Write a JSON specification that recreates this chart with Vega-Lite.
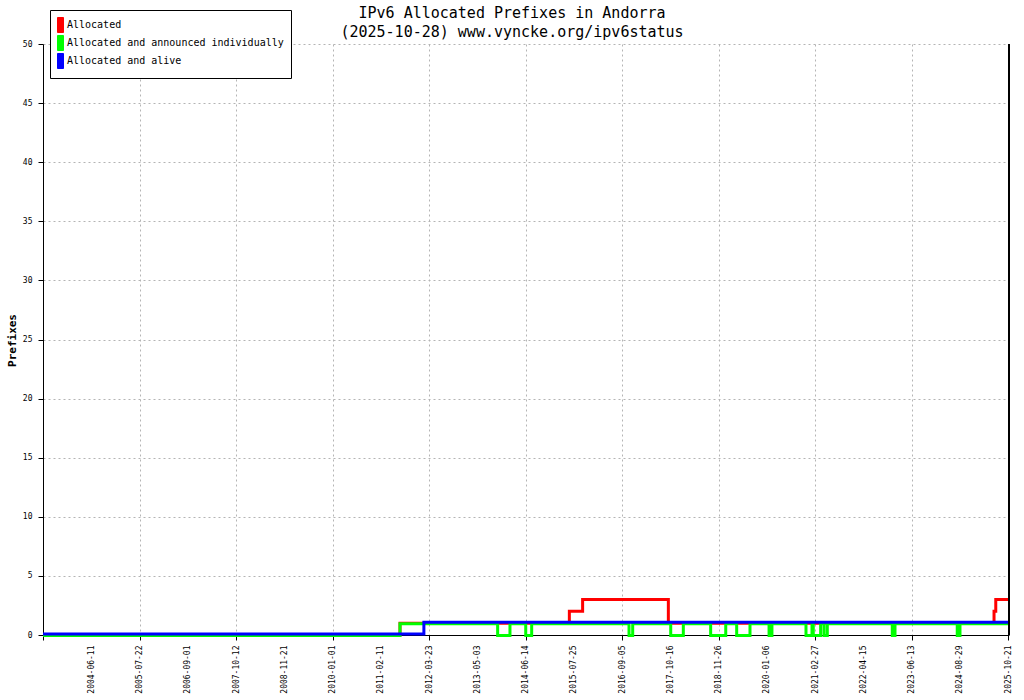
{
  "$schema": "https://vega.github.io/schema/vega-lite/v6.json",
  "description": "IPv6 allocated prefixes in Andorra, step lines per status.",
  "width": 966,
  "height": 591,
  "autosize": {"type": "none"},
  "padding": {"left": 43, "top": 44, "right": 15, "bottom": 65},
  "background": "white",
  "title": {
    "text": ["IPv6 Allocated Prefixes in Andorra", "(2025-10-28) www.vyncke.org/ipv6status"],
    "font": "DejaVu Sans Mono",
    "fontSize": 15,
    "fontWeight": "normal",
    "lineHeight": 19,
    "color": "black",
    "anchor": "middle",
    "frame": "group",
    "dx": -14,
    "offset": -30
  },
  "data": {
    "values": [
      {"date": "2003-05-01", "series": "Allocated", "value": 0},
      {"date": "2011-07-23", "series": "Allocated", "value": 1},
      {"date": "2015-06-18", "series": "Allocated", "value": 2},
      {"date": "2015-10-08", "series": "Allocated", "value": 3},
      {"date": "2017-09-30", "series": "Allocated", "value": 1},
      {"date": "2025-06-22", "series": "Allocated", "value": 2},
      {"date": "2025-07-07", "series": "Allocated", "value": 3},
      {"date": "2025-10-28", "series": "Allocated", "value": 3},

      {"date": "2003-05-01", "series": "Allocated and announced individually", "value": 0},
      {"date": "2011-07-23", "series": "Allocated and announced individually", "value": 1},
      {"date": "2013-10-22", "series": "Allocated and announced individually", "value": 0},
      {"date": "2014-02-03", "series": "Allocated and announced individually", "value": 1},
      {"date": "2014-06-16", "series": "Allocated and announced individually", "value": 0},
      {"date": "2014-08-05", "series": "Allocated and announced individually", "value": 1},
      {"date": "2016-11-03", "series": "Allocated and announced individually", "value": 0},
      {"date": "2016-12-04", "series": "Allocated and announced individually", "value": 1},
      {"date": "2017-10-20", "series": "Allocated and announced individually", "value": 0},
      {"date": "2018-02-03", "series": "Allocated and announced individually", "value": 1},
      {"date": "2018-09-21", "series": "Allocated and announced individually", "value": 0},
      {"date": "2019-01-26", "series": "Allocated and announced individually", "value": 1},
      {"date": "2019-04-28", "series": "Allocated and announced individually", "value": 0},
      {"date": "2019-08-18", "series": "Allocated and announced individually", "value": 1},
      {"date": "2020-01-26", "series": "Allocated and announced individually", "value": 0},
      {"date": "2020-02-20", "series": "Allocated and announced individually", "value": 1},
      {"date": "2020-12-11", "series": "Allocated and announced individually", "value": 0},
      {"date": "2021-02-01", "series": "Allocated and announced individually", "value": 1},
      {"date": "2021-02-12", "series": "Allocated and announced individually", "value": 0},
      {"date": "2021-04-16", "series": "Allocated and announced individually", "value": 1},
      {"date": "2021-05-15", "series": "Allocated and announced individually", "value": 0},
      {"date": "2021-06-12", "series": "Allocated and announced individually", "value": 1},
      {"date": "2022-12-26", "series": "Allocated and announced individually", "value": 0},
      {"date": "2023-01-19", "series": "Allocated and announced individually", "value": 1},
      {"date": "2024-08-06", "series": "Allocated and announced individually", "value": 0},
      {"date": "2024-08-31", "series": "Allocated and announced individually", "value": 1},
      {"date": "2025-10-28", "series": "Allocated and announced individually", "value": 1},

      {"date": "2003-05-01", "series": "Allocated and alive", "value": 0},
      {"date": "2012-02-09", "series": "Allocated and alive", "value": 1},
      {"date": "2025-10-28", "series": "Allocated and alive", "value": 1}
    ]
  },
  "encoding": {
    "x": {
      "field": "date",
      "type": "temporal",
      "scale": {
        "type": "utc",
        "nice": false,
        "domain": [1051747200000, 1761609600000],
        "domainRaw": {"expr": "[1051747200000, 1086912000000, 1121990400000, 1157068800000, 1192147200000, 1227225600000, 1262304000000, 1297382400000, 1332460800000, 1367539200000, 1402704000000, 1437782400000, 1473033600000, 1508112000000, 1543190400000, 1578268800000, 1614384000000, 1649980800000, 1686614400000, 1724889600000, 1761004800000, 1761609600000]"},
        "range": [0, 48.25, 96.5, 144.75, 193, 241.25, 289.5, 337.75, 386, 434.25, 482.5, 530.75, 579, 627.25, 675.5, 723.75, 772, 820.25, 868.5, 916.75, 965, 966]
      },
      "axis": {
        "title": null,
        "values": [1051747200000, 1086912000000, 1121990400000, 1157068800000, 1192147200000, 1227225600000, 1262304000000, 1297382400000, 1332460800000, 1367539200000, 1402704000000, 1437782400000, 1473033600000, 1508112000000, 1543190400000, 1578268800000, 1614384000000, 1649980800000, 1686614400000, 1724889600000, 1761004800000],
        "labelExpr": "utcFormat(datum.value, '%Y-%m-%d') == '2003-05-01' ? '' : utcFormat(datum.value, '%Y-%m-%d')",
        "labelAngle": 270,
        "labelAlign": "right",
        "labelBaseline": "middle",
        "labelPadding": 5,
        "labelOverlap": false,
        "labelFlush": false,
        "tickSize": 5,
        "grid": true,
        "gridOpacity": {
          "condition": {"test": "indexof(['2005-07-22','2007-10-12','2010-01-01','2012-03-23','2014-06-14','2016-09-05','2018-11-26','2021-02-27','2023-06-13','2025-10-21'], utcFormat(datum.value, '%Y-%m-%d')) >= 0", "value": 1},
          "value": 0
        },
        "tickOpacity": {
          "condition": {"test": "indexof(['2003-05-01','2005-07-22','2007-10-12','2010-01-01','2012-03-23','2014-06-14','2016-09-05','2018-11-26','2021-02-27','2023-06-13','2025-10-21'], utcFormat(datum.value, '%Y-%m-%d')) >= 0", "value": 1},
          "value": 0
        }
      }
    },
    "y": {
      "field": "value",
      "type": "quantitative",
      "scale": {"domain": [0, 50], "nice": false},
      "axis": {
        "title": "Prefixes",
        "values": [0, 5, 10, 15, 20, 25, 30, 35, 40, 45, 50],
        "tickSize": 5,
        "labelPadding": 6,
        "grid": true,
        "titleFont": "DejaVu Sans Mono",
        "titleFontSize": 11,
        "titleFontWeight": "bold",
        "titleAngle": 270,
        "titleAlign": "center",
        "titleBaseline": "middle",
        "titleX": -31,
        "titleY": 296
      }
    },
    "color": {
      "field": "series",
      "type": "nominal",
      "scale": {
        "domain": ["Allocated", "Allocated and announced individually", "Allocated and alive"],
        "range": ["#ff0000", "#00ff00", "#0000ff"]
      },
      "legend": {
        "title": null,
        "orient": "none",
        "legendX": 7,
        "legendY": -34,
        "symbolType": "M-1,-1h0.8v2h-0.8z",
        "symbolSize": 225,
        "labelFont": "DejaVu Sans Mono",
        "labelFontSize": 10,
        "labelColor": "black",
        "labelOffset": -6,
        "labelLimit": 400,
        "padding": 7,
        "rowPadding": -5,
        "strokeColor": "black",
        "fillColor": "white",
        "encode": {
          "symbols": {
            "update": {
              "fill": {"scale": "color", "field": "value"},
              "stroke": {"value": "black"},
              "strokeWidth": {"value": 1},
              "opacity": {"value": 1}
            }
          }
        }
      }
    }
  },
  "layer": [
    {
      "transform": [{"filter": "datum.series == 'Allocated'"}],
      "mark": {"type": "line", "interpolate": "step-after", "strokeWidth": 3}
    },
    {
      "transform": [{"filter": "datum.series == 'Allocated and announced individually'"}],
      "mark": {"type": "line", "interpolate": "step-after", "strokeWidth": 3, "yOffset": 0.5}
    },
    {
      "transform": [{"filter": "datum.series == 'Allocated and alive'"}],
      "mark": {"type": "line", "interpolate": "step-after", "strokeWidth": 3, "yOffset": -1}
    },
    {
      "transform": [{"filter": "datum.series == 'Allocated' && utcyear(datum.date) == 2025 && utcdate(datum.date) == 28"}],
      "mark": {"type": "rule", "color": "black", "strokeWidth": 2},
      "encoding": {
        "y": null,
        "color": null
      }
    }
  ],
  "config": {
    "view": {"stroke": null},
    "axis": {
      "domainColor": "black",
      "domainWidth": 1,
      "tickColor": "black",
      "tickWidth": 1,
      "labelColor": "black",
      "labelFont": "DejaVu Sans Mono",
      "labelFontSize": 8,
      "titleColor": "black",
      "gridColor": "#b4b4b4",
      "gridDash": [2, 3],
      "gridWidth": 1
    }
  }
}
